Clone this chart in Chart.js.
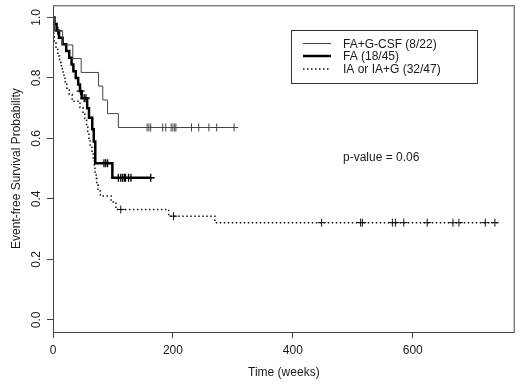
<!DOCTYPE html>
<html>
<head>
<meta charset="utf-8">
<script src="https://cdn.jsdelivr.net/npm/chart.js@4/dist/chart.umd.min.js"></script>
<style>
  body { margin: 0; background: #fff; }
  #contenedor { width: 520px; height: 385px; }
</style>
</head>
<body>
<div id="contenedor"><canvas id="graficoKM" width="520" height="385"></canvas></div>
<script>
// Curvas de Kaplan-Meier (tiempo en semanas, supervivencia)
const fagTiempos = [0, 2.5, 16, 33, 47, 76, 83, 91, 109, 302];
const fagSuperv  = [1, 0.955, 0.909, 0.864, 0.818, 0.773, 0.727, 0.682, 0.636, 0.636];
const fagCensura = [157, 160, 163, 183, 188, 197, 200, 203, 205, 231, 243, 260, 273, 302];

const faTiempos = [0, 2.5, 6, 10, 16, 22, 27, 31, 34, 38, 42, 45, 48, 57, 60, 65.5, 68, 70.5, 99, 163];
const faSuperv  = [1, 0.978, 0.956, 0.933, 0.911, 0.889, 0.867, 0.844, 0.822, 0.8, 0.778, 0.756, 0.733,
                   0.7, 0.668, 0.63, 0.59, 0.518, 0.47, 0.47];
const faCensura = [8, 46, 52, 55, 85, 88, 91, 109, 113, 116, 119, 121, 126, 130, 163];

const iaTiempos = [0, 0.5, 1, 1.5, 2, 5, 8, 11, 14, 17, 20, 23, 27, 32, 45, 50, 53, 56, 58, 60, 62, 65,
                   67, 69, 70, 72, 73, 75, 79, 97, 105, 193, 270, 743];
const iaSuperv  = [1, 0.979, 0.957, 0.936, 0.915, 0.894, 0.872, 0.851, 0.83, 0.809, 0.787, 0.766, 0.745,
                   0.723, 0.702, 0.681, 0.66, 0.638, 0.617, 0.596, 0.574, 0.553, 0.532, 0.511, 0.489,
                   0.468, 0.447, 0.426, 0.41, 0.39, 0.365, 0.343, 0.3215, 0.3215];
const iaCensura = [113, 201, 448, 513, 516, 566, 571, 585, 624, 667, 677, 721, 737];

const nombresGrupos = ['FA+G-CSF (8/22)', 'FA (18/45)', 'IA or IA+G (32/47)'];
const ticksX = [0, 200, 400, 600];
const ticksY = [0, 0.2, 0.4, 0.6, 0.8, 1.0];
const etiquetasY = ['0.0', '0.2', '0.4', '0.6', '0.8', '1.0'];
const textoP = 'p-value = 0.06';

const fuente = 'Liberation Sans, Arial, sans-serif';
const colorTexto = '#1a1a1a';

// Función para armar los puntos de una curva
function puntos(tiempos, superv) {
    return tiempos.map((t, i) => ({ x: t, y: superv[i] }));
}

// Función para obtener la supervivencia en un tiempo dado (para las marcas de censura)
function supervEn(tiempos, superv, t) {
    let s = superv[0];
    for (let i = 0; i < tiempos.length; i++) {
        if (tiempos[i] <= t) s = superv[i];
    }
    return s;
}

function marcas(censura, tiempos, superv) {
    return censura.map(t => ({ x: t, y: supervEn(tiempos, superv, t) }));
}

// Estilos de cada grupo: delgada, gruesa y punteada
const estilos = [
    { color: '#444', ancho: 1, guion: [] },
    { color: '#000', ancho: 2.5, guion: [] },
    { color: '#111', ancho: 1.5, guion: [1.5, 2.5] }
];

// Plugin para el marco, etiquetas rotadas del eje Y, leyenda y p-valor
const extras = {
    id: 'extras',
    afterDraw(chart) {
        const ctx = chart.ctx;
        const area = chart.chartArea;
        const y = chart.scales.y;

        ctx.save();
        ctx.strokeStyle = '#444';
        ctx.lineWidth = 1;
        ctx.strokeRect(area.left + 0.5, area.top + 0.5, area.right - area.left - 1, area.bottom - area.top);

        ctx.fillStyle = colorTexto;
        ctx.font = '12px ' + fuente;
        ctx.textAlign = 'center';
        ctx.textBaseline = 'middle';
        ticksY.forEach((v, i) => {
            ctx.save();
            ctx.translate(37, y.getPixelForValue(v));
            ctx.rotate(-Math.PI / 2);
            ctx.fillText(etiquetasY[i], 0, 0);
            ctx.restore();
        });

        // leyenda
        ctx.strokeStyle = '#333';
        ctx.lineWidth = 1;
        ctx.strokeRect(291.5, 30.5, 186, 53);
        const filas = [43.5, 56, 69];
        nombresGrupos.forEach((nombre, i) => {
            ctx.beginPath();
            ctx.strokeStyle = estilos[i].color;
            ctx.lineWidth = estilos[i].ancho;
            ctx.setLineDash(estilos[i].guion);
            ctx.moveTo(303, filas[i]);
            ctx.lineTo(331, filas[i]);
            ctx.stroke();
            ctx.setLineDash([]);
            ctx.textAlign = 'left';
            ctx.fillText(nombre, 343, filas[i] + 1);
        });

        ctx.fillText(textoP, 343, 158);
        ctx.restore();
    }
};

const grupos = [
    [fagTiempos, fagSuperv, fagCensura],
    [faTiempos, faSuperv, faCensura],
    [iaTiempos, iaSuperv, iaCensura]
];

const datasets = [];
grupos.forEach((g, i) => {
    datasets.push({
        label: nombresGrupos[i],
        data: puntos(g[0], g[1]),
        borderColor: estilos[i].color,
        borderWidth: estilos[i].ancho,
        borderDash: estilos[i].guion,
        stepped: true,
        pointRadius: 0,
        fill: false
    });
    datasets.push({
        label: nombresGrupos[i] + ' censura',
        data: marcas(g[2], g[0], g[1]),
        showLine: false,
        pointStyle: 'cross',
        pointRadius: 4,
        pointBorderWidth: i === 1 ? 1.3 : 1,
        pointBorderColor: estilos[i].color,
        borderColor: estilos[i].color
    });
});

const ctx = document.getElementById('graficoKM').getContext('2d');
window.myChart = new Chart(ctx, {
    type: 'line',
    data: { datasets: datasets },
    plugins: [extras],
    options: {
        responsive: false,
        animation: false,
        layout: { padding: { top: 5, right: 3, left: 0, bottom: 0 } },
        plugins: {
            legend: { display: false },
            tooltip: { enabled: false }
        },
        scales: {
            x: {
                type: 'linear',
                min: 0,
                max: 770,
                afterFit: s => { s.height = 53; },
                afterBuildTicks: s => { s.ticks = ticksX.map(v => ({ value: v })); },
                ticks: {
                    padding: 5,
                    color: colorTexto,
                    font: { family: fuente, size: 12 },
                    maxRotation: 0
                },
                grid: { drawOnChartArea: false, drawTicks: true, tickLength: 6, color: '#444' },
                border: { display: false },
                title: {
                    display: true,
                    text: 'Time (weeks)',
                    color: colorTexto,
                    font: { family: fuente, size: 12 },
                    padding: { top: 0, bottom: 5 }
                }
            },
            y: {
                type: 'linear',
                min: -0.04,
                max: 1.04,
                afterFit: s => { s.width = 53; },
                afterBuildTicks: s => { s.ticks = ticksY.map(v => ({ value: v })); },
                ticks: { display: false },
                grid: { drawOnChartArea: false, drawTicks: true, tickLength: 6, color: '#444' },
                border: { display: false },
                title: {
                    display: true,
                    text: 'Event-free Survival Probability',
                    color: colorTexto,
                    font: { family: fuente, size: 12 },
                    padding: { top: 9, bottom: 0 }
                }
            }
        }
    }
});
</script>
</body>
</html>
